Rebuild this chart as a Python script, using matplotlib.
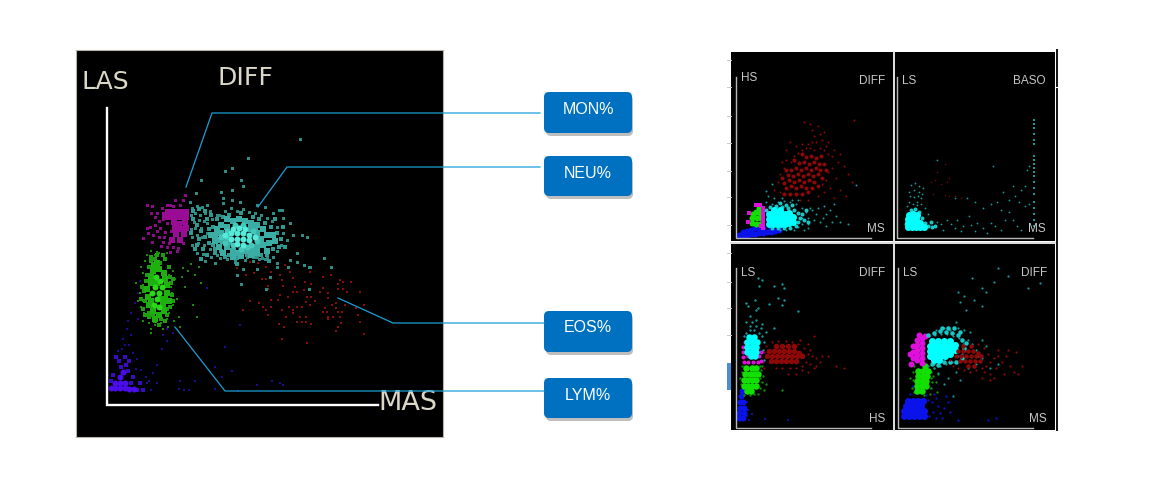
import matplotlib
matplotlib.use("Agg")
import matplotlib.pyplot as plt
from matplotlib.patches import FancyBboxPatch, Rectangle

# ---------- main DIFF panel (MAS, LAS channels) ----------
main_labels = ["MON%", "NEU%", "EOS%", "LYM%"]

mon_core = [(61,193),(66,193),(71,193),(76,193),(79,193),(61,188),(66,189),(71,188),(76,188),(79,188),(67,183),(72,181),(78,183),(79,177),(74,176),(68,177),(69,171),(77,171),(65,165),(73,165),(58,190)]
mon_sparse = [(40,200),(45,199),(50,192),(48,188),(43,178),(48,180),(40,177),(41,172),(46,170),(36,167),(45,163),(56,163),(60,158),(53,177),(58,173),(55,197),(68,205),(78,210),(76,205),(63,200),(73,200),(71,157),(66,158),(76,162),(52,168),(60,182),(56,186),(64,174),(52,184),(44,192),(57,168),(62,162),(60,200),(66,199),(70,154),(63,153),(54,159),(50,174)]

neu_core = [(118,170),(124,172),(130,172),(136,172),(142,170),(148,168),(124,166),(130,166),(136,166),(142,165),(126,176),(132,177),(138,176),(130,161),(136,160)]
neu_inner = [(114,168),(120,174),(146,174),(150,164),(118,162),(126,160),(140,158),(134,156),(128,180),(136,180),(144,160),(120,168)]
neu_mid = [(104,170),(108,164),(110,176),(112,158),(116,152),(120,186),(126,184),(132,186),(138,184),(144,182),(150,180),(156,176),(160,170),(162,162),(156,160),(150,158),(144,156),(138,154),(132,152),(126,154),(120,158),(108,170),(114,172),(116,164),(154,166),(150,172),(144,176),(166,170),(168,164),(144,150),(150,152),(126,148),(134,149),(160,154),(114,180),(120,178),(152,164),(122,163),(148,175),(112,165)]
neu_band = [(86,194),(92,196),(98,194),(104,190),(110,186),(116,188),(122,190),(134,192),(146,188),(152,186),(158,182),(164,178),(170,172),(174,166),(172,158),(166,156),(160,150),(154,150),(148,148),(140,150),(130,147),(122,150),(114,154),(108,156),(102,162),(98,168),(94,174),(90,180),(86,186),(92,166),(88,156),(96,156),(102,176),(100,186),(106,178),(108,152),(118,148),(84,172),(90,160),(106,160),(176,178),(168,186),(178,158),(162,144),(130,141),(100,150),(94,146)]
neu_sparse = [(85,197),(90,199),(95,198),(100,200),(84,190),(88,192),(93,190),(98,192),(103,194),(87,183),(92,185),(97,184),(84,176),(88,177),(94,177),(100,182),(105,186),(110,190),(85,168),(90,170),(95,168),(100,172),(85,160),(91,162),(97,160),(103,156),(90,152),(96,151),(104,148),(110,150),(98,144),(108,142),(112,190),(118,194),(124,197),(130,194),(136,196),(142,193),(148,192),(154,190),(160,187),(165,184),(170,178),(176,172),(180,165),(174,160),(170,154),(166,148),(158,146),(152,146),(146,144),(138,145),(128,143),(120,146),(113,147),(176,187),(183,182),(175,195),(166,192),(186,170),(195,170),(200,168),(190,152),(183,145),(203,138),(193,266),(141,247),(125,237),(118,234),(94,225),(134,225),(136,219),(125,215),(114,213),(116,207),(116,202),(125,205),(133,203),(89,212),(83,203),(150,200),(158,198),(172,195),
(124,148),(128,145),(135,148),(140,148),(146,148),(150,148),(155,147),(160,147),(170,142),(183,145),(190,143),(130,130),(136,136),(134,121),(163,128),(159,116),(202,116),(224,138),(202,138),(197,140),(181,138),(170,138),(150,136),(217,147)]

lym_core = [(48,118),(52,112),(50,106),(47,100),(53,124),(49,128),(45,112),(55,118),(52,98)]
lym_mid = [(41,108),(44,122),(40,116),(46,134),(52,136),(57,132),(58,126),(60,112),(58,106),(56,100),(44,104),(46,94),(52,90),(57,94),(42,100),(50,142),(47,140),(60,120),(44,128),(50,122),(54,106),(48,86),(62,104)]
lym_band = [(36,96),(38,104),(37,114),(39,124),(40,130),(42,138),(44,144),(48,146),(53,142),(58,146),(62,138),(63,128),(64,122),(65,110),(63,98),(60,90),(54,86),(48,84),(42,88),(38,90),(34,106),(35,118),(56,150),(50,150),(44,148),(66,126),(66,104),(42,92),(60,96),(42,130),(46,90),(58,84),(52,80)]
lym_sparse = [(29,122),(33,112),(36,120),(31,104),(34,98),(37,92),(36,84),(42,82),(48,80),(54,82),(60,86),(62,92),(66,100),(70,106),(64,118),(68,126),(62,130),(66,134),(44,154),(48,150),(52,152),(60,152),(34,138),(38,144),(36,104),(65,112),(72,88),(73,78),(67,84),(61,78),(44,76),(50,153),(76,137),(81,134),(75,128),(88,130),(92,138),(84,141),(78,118),(86,100),(94,122),(90,88),(40,150),(36,132),(44,72),(56,76)]

blue_core = [(8,17),(13,17),(18,17),(8,22),(13,22),(18,22),(13,28),(16,33),(4,17),(22,16),(27,16)]
blue_mid = [(14,38),(12,44),(9,48),(6,30),(4,24),(24,22),(26,28),(21,34),(30,15),(36,15),(33,22),(19,40),(18,48),(22,44)]
blue_sparse = [(15,56),(18,60),(11,54),(22,60),(26,52),(30,46),(29,36),(34,35),(39,28),(44,15),(42,24),(16,66),(24,70),(20,76),(21,84),(24,92),(31,86),(28,102),(36,118),(31,112),(33,124),(40,22),(46,32),(50,22),(50,40),(55,56),(60,64),(56,70),(60,76),(66,72),(73,24),(77,15),(82,15),(88,24),(72,16),(115,28),(125,34),(131,14),(150,20),(173,22),(176,20),(108,16),(118,58),(133,80),(165,24),(100,117),(108,38)]

eos_pts = [(130,137),(147,132),(139,130),(155,126),(159,126),(164,133),(161,119),(161,116),(175,125),(186,127),(176,119),(173,130),(183,133),(178,140),(159,138),(151,142),(143,143),(188,118),(186,113),(190,113),(198,123),(197,115),(204,121),(203,133),(216,128),(224,130),(233,125),(236,123),(231,121),(231,116),(236,116),(240,113),(216,117),(213,113),(221,112),(244,123),(253,113),(173,110),(171,105),(181,108),(143,104),(152,102),(156,98),(159,95),(164,98),(164,105),(175,95),(182,98),(186,95),(186,92),(190,98),(195,98),(200,108),(204,108),(199,103),(203,100),(208,104),(221,107),(225,100),(229,102),(229,97),(218,97),(216,93),(220,93),(221,88),(226,88),(231,93),(235,93),(238,100),(249,97),(257,100),(251,90),(253,83),(234,82),(231,78),(229,74),(257,71),(221,86),(233,88),(179,88),(193,88),(199,88),(190,83),(195,83),(199,83),(204,81),(172,81),(177,78),(161,90),(136,95),(200,62),(175,66)]

# ---------- panel 1: HS vs MS ----------
p1_blue = [(3,3),(7,3),(11,3),(11,7),(15,4),(15,8),(19,10),(19,4),(23,5),(23,9),(27,5),(27,10),(31,6),(35,6),(35,10),(39,7),(43,8),(7,6)]
p1_green = [(16,15),(20,14),(16,20),(21,20),(24,14),(25,20),(20,26),(24,25),(17,24),(23,30)]
p1_magenta = [(27,10),(27,14),(27,18),(27,22),(27,26),(27,30),(25,12),(24,33),(20,33),(13,25),(12,16)]
p1_cyan = [(33,14),(37,14),(41,14),(45,14),(49,14),(53,15),(57,16),(33,19),(37,19),(41,19),(45,19),(49,19),(53,20),(57,21),(33,24),(37,24),(41,24),(45,24),(49,24),(53,25),(38,28),(44,28)]
p1_cyan_halo = [(30,28),(34,31),(40,32),(46,31),(52,30),(58,28),(62,25),(64,20),(62,16),(60,12),(54,10),(48,10),(42,10),(36,10),(66,24),(68,18),(50,33),(44,35),(56,33),(70,28),(72,16)]
p1_cyan_sparse = [(30,36),(36,34),(42,36),(48,37),(54,36),(60,34),(66,30),(70,26),(72,20),(74,30),(66,20),(66,14),(72,14),(78,18),(80,24),(76,28),(82,30),(84,16),(87,20),(90,24),(94,28),(98,34),(88,32),(62,38),(56,38),(46,40),(38,40),(32,42),(30,47),(36,54),(62,11),(68,8),(72,10),(58,8),(50,8),(44,8),(96,16),(100,22),(104,16),(112,14),(90,12),(120,53)]
p1_red_core = [(50,50),(55,52),(60,50),(65,52),(70,50),(48,55),(53,58),(58,56),(63,58),(68,56),(73,58),(78,56),(52,63),(57,62),(62,64),(67,62),(72,64),(77,62),(82,64),(55,68),(60,70),(65,68),(70,70),(75,68),(80,70),(84,68),(63,75),(68,76),(73,74),(78,76),(83,74),(70,81),(75,82),(80,80),(85,82),(72,46),(66,44),(60,44),(54,44),(48,44),(76,50),(82,52),(88,74),(46,60),(50,68),(58,78),(66,84),(90,68),(86,60)]
p1_red_sparse = [(42,56),(44,64),(48,70),(46,76),(50,78),(55,76),(58,82),(62,85),(66,88),(70,90),(74,90),(78,88),(84,90),(88,88),(92,84),(96,82),(90,92),(86,98),(80,96),(76,96),(72,94),(66,94),(92,96),(98,88),(102,76),(104,84),(108,72),(96,70),(92,66),(90,58),(86,54),(94,50),(88,46),(82,42),(98,40),(100,60),(104,48),(110,42),(64,38),(72,38),(76,108),(68,116),(74,114),(82,112),(88,106),(78,102),(84,104),(118,118),(50,88),(44,46),(38,48),(54,96),(60,92),(112,64),(116,56)]

# ---------- panel 2: LS vs MS (BASO) ----------
p2_cyan = [(11,11),(15,11),(19,11),(23,11),(27,11),(11,15),(15,15),(19,15),(23,15),(11,19),(15,19),(19,19),(12,23),(16,24),(20,23)]
p2_cyan_mid = [(9,14),(14,28),(18,29),(22,26),(25,20),(28,15),(31,12),(35,11),(38,12),(34,16)]
p2_cyan_sparse = [(12,36),(16,34),(20,36),(24,34),(10,32),(12,46),(17,48),(22,46),(25,44),(14,53),(18,55),(22,52),(26,50),(13,42),(17,41),(21,42),(24,40),(20,33),(28,30),(31,24),(40,16),(44,14),(46,8),(50,18),(54,14),(58,10),(60,18),(64,7),(66,12),(72,22),(74,13),(78,7),(80,15),(86,10),(90,5),(94,15),(98,12),(104,8),(108,18),(112,26),(116,18),(120,12),(124,8),(78,36),(86,30),(94,34),(104,28),(112,38),(118,42),(122,36),(128,32),(132,34),(100,36),(106,46),(116,52),(124,48),(128,52),(40,78),(96,72),(130,68),(132,72),(58,40),(70,40)]
p2_baso_line = [(137,118),(137,114),(137,110),(137,104),(137,98),(137,94),(137,82),(137,78),(137,74),(137,70),(137,66),(137,62),(137,56),(137,50),(137,44),(137,36),(137,30),(137,24),(137,18),(137,12)]
p2_red = [(34,56),(38,58),(44,54),(50,56),(36,44),(48,43),(52,42),(58,42),(64,40),(40,66),(52,60),(48,74)]

# ---------- panel 3: LS vs HS ----------
p3_blue = [(3,10),(7,10),(3,15),(8,15),(4,20),(8,20),(4,26),(7,26),(5,32),(6,37)]
p3_blue_sparse = [(11,12),(12,18),(11,26),(13,8),(10,36),(29,9),(52,8),(16,14)]
p3_green = [(11,37),(15,37),(8,42),(12,42),(16,42),(20,42),(8,48),(12,48),(16,48),(20,48),(9,54),(14,54),(18,54),(22,54),(10,60),(16,60),(20,60)]
p3_green_sparse = [(24,40),(26,46),(27,52),(28,38),(25,58),(6,56),(6,62),(22,34),(26,62),(30,44),(46,38),(8,33),(5,44),(24,50),(24,62),(14,33),(18,34),(4,50)]
p3_magenta = [(8,66),(12,66),(17,66),(22,66),(25,67),(7,71),(7,76),(7,81),(9,86),(23,72),(25,76),(12,72),(21,80)]
p3_cyan = [(11,76),(16,76),(20,76),(11,81),(16,81),(20,81),(11,86),(16,86),(21,86),(13,91),(18,91),(15,72),(19,72)]
p3_cyan_sparse = [(10,95),(14,98),(18,98),(23,95),(26,92),(28,86),(27,78),(8,92),(14,102),(20,102),(25,100),(30,96),(30,72),(28,68),(16,106),(20,108),(10,106),(14,112),(20,118),(19,128),(10,125),(12,122),(22,120),(26,104),(38,100),(22,150),(33,124),(48,128),(46,123),(62,117),(48,140),(46,144),(42,130),(26,148),(23,142),(38,142)]
p3_red_core = [(31,72),(36,72),(41,72),(46,72),(51,72),(56,72),(61,72),(33,77),(38,77),(43,77),(48,77),(53,77),(58,77),(63,75),(66,72),(35,67),(40,67),(45,67),(50,67),(55,67),(60,67),(46,82),(52,82),(40,82),(58,82)]
p3_red_sparse = [(27,66),(28,76),(30,82),(36,86),(42,87),(50,87),(56,86),(62,84),(68,80),(72,74),(76,72),(80,70),(86,72),(92,72),(72,84),(70,66),(74,64),(78,60),(84,66),(80,62),(66,62),(60,60),(54,60),(46,60),(40,60),(64,88),(74,78),(66,58),(52,54),(72,56),(78,92),(60,54),(28,60),(100,62),(108,60)]

# ---------- panel 4: LS vs MS ----------
p4_blue = [(6,12),(11,12),(16,12),(21,12),(26,12),(6,17),(11,17),(16,17),(21,17),(26,17),(8,22),(13,22),(18,22),(23,22),(10,27),(15,27),(20,27),(25,27)]
p4_blue_sparse = [(31,12),(35,16),(38,10),(40,22),(30,28),(34,26),(28,33),(22,36),(12,34),(17,35),(42,15),(44,10),(38,30),(36,34),(46,20),(32,40),(15,42),(50,26),(52,16),(48,32),(60,8),(90,8),(98,10)]
p4_green = [(19,37),(24,37),(19,42),(24,42),(28,42),(19,47),(24,47),(28,47),(20,52),(25,52),(29,52),(20,57),(25,57),(30,57),(27,62)]
p4_green_sparse = [(14,40),(15,48),(15,56),(33,40),(34,46),(35,52),(36,60),(32,34),(26,33),(38,46),(40,54),(39,36),(16,62),(36,64),(12,50),(33,56),(33,50),(16,36)]
p4_magenta = [(24,65),(24,70),(24,75),(24,80),(24,85),(24,90),(19,68),(19,73),(19,78),(19,83),(19,88),(15,70),(15,76),(15,82),(27,92),(21,93),(13,64),(12,74)]
p4_cyan = [(32,72),(37,72),(42,72),(47,72),(52,74),(32,77),(37,77),(42,77),(47,77),(52,79),(57,78),(32,82),(37,82),(42,82),(47,82),(52,84),(57,83),(34,87),(40,87),(46,87),(52,87),(36,68),(41,68)]
p4_cyan_halo = [(30,93),(36,95),(42,97),(48,96),(54,95),(60,93),(64,88),(66,80),(64,70),(58,66),(52,66),(46,66),(40,63),(34,64),(68,85),(62,96),(56,100),(50,100),(44,100)]
p4_cyan_sparse = [(31,92),(37,93),(43,94),(49,94),(55,92),(61,90),(65,84),(67,78),(30,62),(36,60),(42,62),(48,64),(54,66),(60,72),(64,74),(70,88),(74,84),(78,78),(80,72),(72,96),(60,100),(66,98),(52,98),(58,106),(46,100),(38,98),(84,88),(88,82),(84,70),(78,64),(70,60),(40,55),(50,50),(58,56),(62,48),(46,44),(55,32),(100,64),(92,60),(62,126),(66,132),(76,128),(84,122),(60,136),(68,118),(74,150),(96,146),(100,160),(88,136),(84,140),(130,140),(142,145),(110,152)]
p4_red_core = [(58,72),(63,72),(68,72),(73,72),(78,72),(83,72),(60,77),(65,77),(70,77),(75,77),(80,75),(62,67),(67,67),(72,67),(77,67),(82,67),(70,62),(76,62),(65,82),(73,82)]
p4_red_sparse = [(52,68),(55,62),(60,60),(66,58),(72,56),(78,58),(84,60),(88,62),(92,66),(96,70),(100,72),(90,74),(86,80),(80,84),(86,56),(92,54),(98,60),(104,66),(108,72),(112,62),(116,56),(120,54),(124,62),(110,78),(118,76),(106,54),(92,48),(84,50),(96,50),(100,78)]

# ---------- colours ----------
C_MON, C_MON2 = "#9a0c96", "#8a0a88"
C_NEU_CORE, C_NEU_INNER, C_NEU_MID, C_NEU_BAND, C_NEU_OUT = "#56eadb", "#45c8bc", "#3cada5", "#2f9a92", "#2f8b84"
C_LYM_CORE, C_LYM_MID, C_LYM_BAND, C_LYM_OUT = "#2ad81a", "#1fb00f", "#1c9e0e", "#1a8c0c"
C_BLU_CORE, C_BLU_MID, C_BLU_OUT = "#4a0ce8", "#3a0cc0", "#22088a"
C_EOS = "#8a0c0c"
C_LINE = "#1a9fd6"
C_BOX = "#0070c0"
C_TEXT = "#dcd8c8"
C_SUB = "#c8c8c8"
C_B, C_G, C_M, C_C, C_CS, C_R = "#0a14ea", "#12e000", "#e010dc", "#00ffff", "#149a9a", "#8e0808"

W, H = 1156, 483
fig = plt.figure(figsize=(W/100, H/100), dpi=100, facecolor="white")


def add_panel(left, top, right, bottom, x0, y0):
    """Axes on a pixel box; channel 0,0 sits at pixel (x0,y0), one channel is one pixel."""
    ax = fig.add_axes([left/W, 1-bottom/H, (right-left)/W, (bottom-top)/H])
    ax.set_xlim(left-x0, right-x0)
    ax.set_ylim(y0-bottom, y0-top)
    ax.set_facecolor("black")
    ax.set_xticks([]); ax.set_yticks([])
    for s in ax.spines.values():
        s.set_visible(False)
    return ax


def dots(ax, pts, color, px, marker="s"):
    xs = [p[0] for p in pts]
    ys = [p[1] for p in pts]
    ax.scatter(xs, ys, s=(px*0.72)**2, c=color, marker=marker, linewidths=0, clip_on=True)


# ---------- main panel ----------
ax = add_panel(76, 50, 443, 437, 107, 405)
for s in ax.spines.values():
    s.set_visible(True); s.set_color("#b8b4ac"); s.set_linewidth(0.8)
dots(ax, blue_sparse, C_BLU_OUT, 2.3)
dots(ax, blue_mid, C_BLU_MID, 4)
dots(ax, blue_core, C_BLU_CORE, 6, "o")
dots(ax, eos_pts, C_EOS, 2.6)
dots(ax, neu_sparse, C_NEU_OUT, 3)
dots(ax, neu_band, C_NEU_BAND, 4)
dots(ax, neu_mid, C_NEU_MID, 6)
dots(ax, neu_inner, C_NEU_INNER, 6, "o")
dots(ax, neu_core, C_NEU_CORE, 6, "o")
dots(ax, mon_sparse, C_MON2, 3)
dots(ax, mon_core, C_MON, 5.5)
dots(ax, lym_sparse, C_LYM_OUT, 2.6)
dots(ax, lym_band, C_LYM_BAND, 4)
dots(ax, lym_mid, C_LYM_MID, 6)
dots(ax, lym_core, C_LYM_CORE, 6, "o")
ax.plot([0, 0, 271], [297, 0, 0], color="white", lw=1.7, solid_joinstyle="miter")
ax.text(-25, 323, "LAS", color=C_TEXT, fontsize=18, ha="left", va="center", family="DejaVu Sans")
ax.text(110, 327, "DIFF", color=C_TEXT, fontsize=18, ha="left", va="center", family="DejaVu Sans")
ax.text(271, 2, "MAS", color=C_TEXT, fontsize=19.5, ha="left", va="center", family="DejaVu Sans")

# ---------- small panels ----------
a1 = add_panel(731, 52, 893, 241, 736, 238)
dots(a1, p1_red_sparse, C_R, 2, "o")
dots(a1, p1_red_core, C_R, 4, "o")
dots(a1, p1_blue, C_B, 6, "o")
dots(a1, p1_cyan_sparse, C_CS, 2, "o")
dots(a1, p1_cyan_halo, "#18c8c8", 4, "o")
dots(a1, p1_green, C_G, 6, "o")
dots(a1, p1_magenta, C_M, 3.5)
dots(a1, p1_cyan, C_C, 7, "o")

a2 = add_panel(895, 52, 1055, 241, 897, 238)
dots(a2, p2_cyan_sparse, C_CS, 1.8, "o")
dots(a2, p2_baso_line, C_CS, 1.5)
dots(a2, p2_red, "#6a0808", 1.6, "o")
dots(a2, p2_cyan_mid, "#18c8c8", 4, "o")
dots(a2, p2_cyan, C_C, 7, "o")

a3 = add_panel(731, 244, 893, 430, 736, 428)
dots(a3, p3_blue_sparse, "#0a10a0", 2)
dots(a3, p3_blue, C_B, 6, "o")
dots(a3, p3_green_sparse, "#108a08", 2.4, "o")
dots(a3, p3_green, C_G, 6.5, "o")
dots(a3, p3_cyan_sparse, C_CS, 2.4, "o")
dots(a3, p3_red_sparse, C_R, 2.2, "o")
dots(a3, p3_red_core, C_R, 5.5, "o")
dots(a3, p3_magenta, C_M, 4, "o")
dots(a3, p3_cyan, C_C, 6.5, "o")

a4 = add_panel(895, 244, 1055, 430, 898, 428)
dots(a4, p4_blue_sparse, "#0a10c0", 2.4, "o")
dots(a4, p4_blue, C_B, 7, "o")
dots(a4, p4_green_sparse, "#108a08", 2.4, "o")
dots(a4, p4_green, C_G, 6.5, "o")
dots(a4, p4_magenta, C_M, 6, "o")
dots(a4, p4_cyan_sparse, C_CS, 2.2, "o")
dots(a4, p4_cyan_halo, "#18c8c8", 4.5, "o")
dots(a4, p4_cyan, C_C, 7, "o")
dots(a4, p4_red_sparse, C_R, 2.2, "o")
dots(a4, p4_red_core, C_R, 4.5, "o")

label_rows = [
    (a1, "HS", 161, 160, "DIFF", "MS", 135, 149),
    (a2, "LS", 161, 157, "BASO", "MS", 136, 149),
    (a3, "LS", 160, 155, "DIFF", "HS", 135, 149),
    (a4, "LS", 160, 155, "DIFF", "MS", 135, 149)]
for a, ylab, top, ty, right_lab, xlab, xend, tx in label_rows:
    a.plot([0, 0, xend], [top, 0, 0], color="#b8b8b8", lw=1.0, solid_joinstyle="miter")
    a.text(5, ty, ylab, color=C_SUB, fontsize=8.5, family="Liberation Sans", ha="left", va="center")
    a.text(tx, ty if a is not a1 else 157, right_lab, color=C_SUB, fontsize=8.5, family="Liberation Sans", ha="right", va="center")
    a.text(tx, 9, xlab, color=C_SUB, fontsize=8.5, family="Liberation Sans", ha="right", va="center")

# ---------- overlay in picture pixels: callouts, boxes, ticks ----------
ov = fig.add_axes([0, 0, 1, 1], facecolor="none")
ov.set_xlim(0, W); ov.set_ylim(H, 0); ov.axis("off")

ov.plot([186, 212, 540], [187, 113, 113], color=C_LINE, lw=0.9)
ov.plot([258, 287, 540], [207, 167, 167], color=C_LINE, lw=0.9)
ov.plot([338, 393, 544], [298, 323, 323], color=C_LINE, lw=0.9)
ov.plot([175, 225, 544], [327, 391, 391], color=C_LINE, lw=0.9)

for label, top, bottom in zip(main_labels, [92, 156, 311, 378], [133, 196, 352, 418]):
    ov.add_patch(FancyBboxPatch((546, top+3), 87, bottom-top, boxstyle="round,pad=0,rounding_size=5",
                                fc="#8a8a8a", ec="none", alpha=0.55))
    ov.add_patch(FancyBboxPatch((544, top), 88, bottom-top, boxstyle="round,pad=0,rounding_size=5",
                                fc=C_BOX, ec="none"))
    ov.text(588, top+17, label, color="white", fontsize=11.5, family="Liberation Sans", ha="center", va="center")

for y in [60, 87, 116, 143, 171, 197, 225, 253, 282, 308, 335]:
    ov.plot([727, 731], [y, y], color="#cccccc", lw=0.7)
ov.add_patch(Rectangle((727, 363), 4, 27, fc="#4a90d0", ec="none"))
ov.plot([1056.5, 1056.5], [50, 430], color="#111111", lw=1.4)
ov.plot([1056, 1059], [87, 87], color="white", lw=0.8)
ov.plot([731, 1055], [242.5, 242.5], color="#dcdcdc", lw=1.4)
ov.plot([894, 894], [52, 430], color="#dcdcdc", lw=1.4)

fig.savefig("out.png", dpi=100)
